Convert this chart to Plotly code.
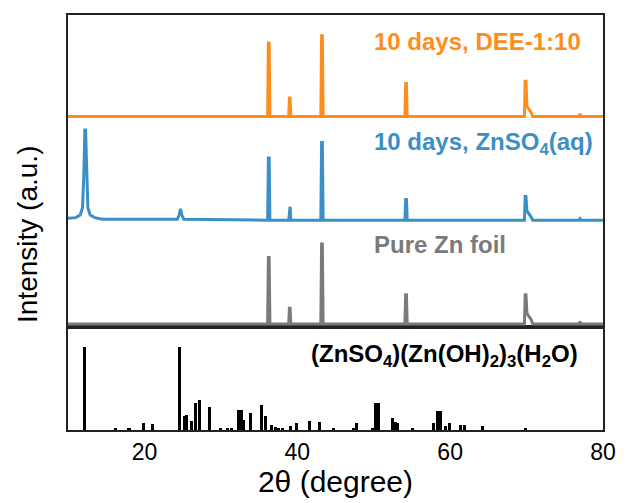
import plotly.graph_objects as go

# ---------------- data ----------------
# Top panel: stacked XRD patterns (arbitrary units, baselines at 0 / 1 / 2)
zn_x = [10, 36.12, 36.22, 36.32, 36.42, 38.88, 38.97, 39.06, 39.15, 43.08, 43.18, 43.28, 43.38,
        54.08, 54.18, 54.28, 54.38, 69.72, 69.82, 69.92, 70.05, 70.45, 70.6, 70.8,
        76.85, 77.0, 77.15, 80]
zn_y = [0.0, 0.0, 0.64, 0.64, 0.0, 0.0, 0.15, 0.15, 0.0, 0.0, 0.77, 0.77, 0.0,
        0.0, 0.28, 0.28, 0.0, 0.0, 0.28, 0.28, 0.10, 0.06, 0.04, 0.0,
        0.0, 0.02, 0.0, 0.0]

aq_x = [10, 11.0, 11.6, 11.9, 12.08, 12.2, 12.3, 12.42, 12.6, 12.9, 13.5, 14.5,
        24.3, 24.55, 24.72, 24.9, 25.15,
        36.12, 36.22, 36.32, 36.42, 38.88, 38.97, 39.06, 39.15, 43.08, 43.18, 43.28, 43.38,
        54.08, 54.18, 54.28, 54.38, 69.72, 69.82, 69.92, 70.05, 70.45, 70.6, 70.8,
        76.85, 77.0, 77.15, 80]
aq_y = [1.02, 1.025, 1.05, 1.12, 1.45, 1.87, 1.87, 1.45, 1.12, 1.05, 1.025, 1.01,
        1.01, 1.05, 1.11, 1.05, 1.01,
        1.0, 1.60, 1.60, 1.0, 1.0, 1.13, 1.13, 1.0, 1.0, 1.75, 1.75, 1.0,
        1.0, 1.20, 1.20, 1.0, 1.0, 1.23, 1.23, 1.09, 1.05, 1.03, 1.0,
        1.0, 1.015, 1.0, 1.0]

dee_x = [10, 36.12, 36.22, 36.32, 36.42, 38.88, 38.97, 39.06, 39.15,
         43.08, 43.18, 43.28, 43.38, 54.08, 54.18, 54.28, 54.38,
         69.72, 69.82, 69.92, 70.05, 70.45, 70.6, 70.8, 76.85, 77.0, 77.15, 80]
dee_y = [2.0, 2.0, 2.71, 2.71, 2.0, 2.0, 2.18, 2.18, 2.0,
         2.0, 2.78, 2.78, 2.0, 2.0, 2.32, 2.32, 2.0,
         2.0, 2.34, 2.34, 2.10, 2.06, 2.04, 2.0, 2.0, 2.026, 2.0, 2.0]

# Bottom panel: reference pattern (ZnSO4)(Zn(OH)2)3(H2O), relative intensity (%)
ref_pos = [12.2, 16.26, 17.98, 19.9, 21.1, 24.56, 25.2, 25.55, 26.2, 26.7, 27.26, 28.56,
           29.9, 30.9, 31.4, 32.35, 32.7, 33.0, 33.85, 35.35, 35.8, 36.6, 37.1, 37.55,
           38.06, 39.1, 39.9, 41.6, 42.9, 44.7, 47.3, 47.7, 49.9, 50.3, 50.6, 52.5,
           52.9, 53.1, 55.06, 57.8, 58.3, 58.7, 59.35, 59.9, 61.4, 61.85, 64.2, 69.8]
ref_int = [100, 3, 1.5, 8, 7, 100, 17, 18, 11, 32, 36, 28,
           3, 2, 2, 24, 24, 12, 21, 30, 17, 6, 3.5, 2.5,
           2.5, 5, 8, 11, 10, 2.5, 2.5, 8, 3, 32, 32, 14,
           10, 8, 2.5, 8, 23, 23, 5, 8, 6, 6, 5, 3]

x_ticks = [20, 40, 60, 80]

# ---------------- figure ----------------
ORANGE = "#FF8D1C"
BLUE = "#3C8FC6"
GRAY = "#7A7A7A"
FONT = "Arial, 'Liberation Sans', sans-serif"

fig = go.Figure()
fig.add_trace(go.Scatter(x=zn_x, y=zn_y, mode="lines", line=dict(color=GRAY, width=3),
                         xaxis="x2", yaxis="y", showlegend=False))
fig.add_trace(go.Scatter(x=aq_x, y=aq_y, mode="lines", line=dict(color=BLUE, width=3),
                         xaxis="x2", yaxis="y", showlegend=False))
fig.add_trace(go.Scatter(x=dee_x, y=dee_y, mode="lines", line=dict(color=ORANGE, width=3),
                         xaxis="x2", yaxis="y", showlegend=False))
fig.add_trace(go.Bar(x=ref_pos, y=ref_int, width=0.4, marker=dict(color="black", line=dict(width=0)),
                     xaxis="x", yaxis="y2", showlegend=False))

split = 103 / 415
axis_line = dict(showline=True, linecolor="#222222", linewidth=2, mirror=True,
                 showgrid=False, zeroline=False)

fig.update_layout(
    width=628, height=503,
    margin=dict(l=68, r=13, t=15, b=73),
    plot_bgcolor="white", paper_bgcolor="white",
    font=dict(family=FONT, color="black"),
    bargap=0,
    xaxis=dict(range=[10, 80], tickvals=x_ticks, ticks="", anchor="y2",
               tickfont=dict(size=23), title=dict(text="2θ (degree)", font=dict(size=30), standoff=2),
               **axis_line),
    xaxis2=dict(range=[10, 80], matches="x", anchor="y", showticklabels=False, ticks="",
                **axis_line),
    yaxis=dict(domain=[split, 1], range=[-0.03, 2.98], showticklabels=False, ticks="",
               **axis_line),
    yaxis2=dict(domain=[0, split], range=[0, 124], showticklabels=False, ticks="",
                **axis_line),
    annotations=[
        dict(text="Intensity (a.u.)", textangle=-90, xref="paper", yref="paper",
             x=0, y=0.47, xshift=-40, xanchor="center", yanchor="middle", showarrow=False,
             font=dict(size=28, color="black")),
        dict(text="<b>10 days, DEE-1:10</b>", xref="x2", yref="y", x=49.8, y=2.72,
             xanchor="left", yanchor="middle", showarrow=False, font=dict(size=24, color=ORANGE)),
        dict(text="<b>10 days, ZnSO<sub>4</sub>(aq)</b>", xref="x2", yref="y", x=49.8, y=1.74,
             xanchor="left", yanchor="middle", showarrow=False, font=dict(size=24, color=BLUE)),
        dict(text="<b>Pure Zn foil</b>", xref="x2", yref="y", x=49.8, y=0.77,
             xanchor="left", yanchor="middle", showarrow=False, font=dict(size=24, color=GRAY)),
        dict(text="<b>(ZnSO<sub>4</sub>)(Zn(OH)<sub>2</sub>)<sub>3</sub>(H<sub>2</sub>O)</b>",
             xref="x", yref="y2", x=41.5, y=90, xanchor="left", yanchor="middle",
             showarrow=False, font=dict(size=24, color="black")),
    ],
)

fig.write_html("out.html")
